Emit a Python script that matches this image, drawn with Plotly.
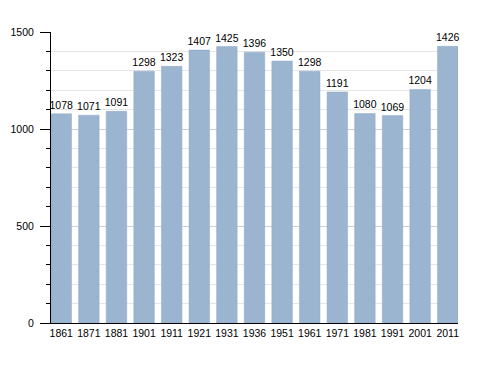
import plotly.graph_objects as go

years = ["1861", "1871", "1881", "1901", "1911", "1921", "1931", "1936",
         "1951", "1961", "1971", "1981", "1991", "2001", "2011"]
population = [1078, 1071, 1091, 1298, 1323, 1407, 1425, 1396,
              1350, 1298, 1191, 1080, 1069, 1204, 1426]

FONT = "Liberation Sans, Arial, sans-serif"
GAP = 0.257

fig = go.Figure()
fig.add_trace(go.Bar(
    x=years, y=population,
    text=[str(v) for v in population],
    textposition="outside",
    constraintext="none",
    textfont=dict(size=10.5, color="#000000", family=FONT),
    marker=dict(color="#9bb4d0", line=dict(color="#8ea8c6", width=0.5)),
    cliponaxis=False,
))

fig.update_layout(
    width=480, height=365,
    margin=dict(l=43, r=30, t=24, b=50),
    paper_bgcolor="white", plot_bgcolor="white",
    bargap=GAP,
    showlegend=False,
    font=dict(family=FONT, size=10.5, color="#000000"),
    xaxis=dict(
        type="category",
        range=[-0.5 + GAP / 2, len(years) - 0.5 - GAP / 2],
        automargin=False,
        showline=True, linecolor="#000000", linewidth=1,
        ticks="", showgrid=False,
        tickfont=dict(size=10.5),
    ),
    yaxis=dict(
        range=[0, 1500], dtick=500, tick0=0,
        automargin=False,
        showline=True, linecolor="#000000", linewidth=1,
        ticks="outside", ticklen=10, tickcolor="#000000", tickwidth=1,
        ticklabelstandoff=4,
        showgrid=True, gridcolor="#d0d0d0", gridwidth=1,
        zeroline=False,
        tickfont=dict(size=10.5),
        minor=dict(dtick=100, ticks="outside", ticklen=4, tickcolor="#000000",
                   showgrid=True, gridcolor="#e6e6e6", gridwidth=1),
    ),
)

fig.write_html("out.html")
